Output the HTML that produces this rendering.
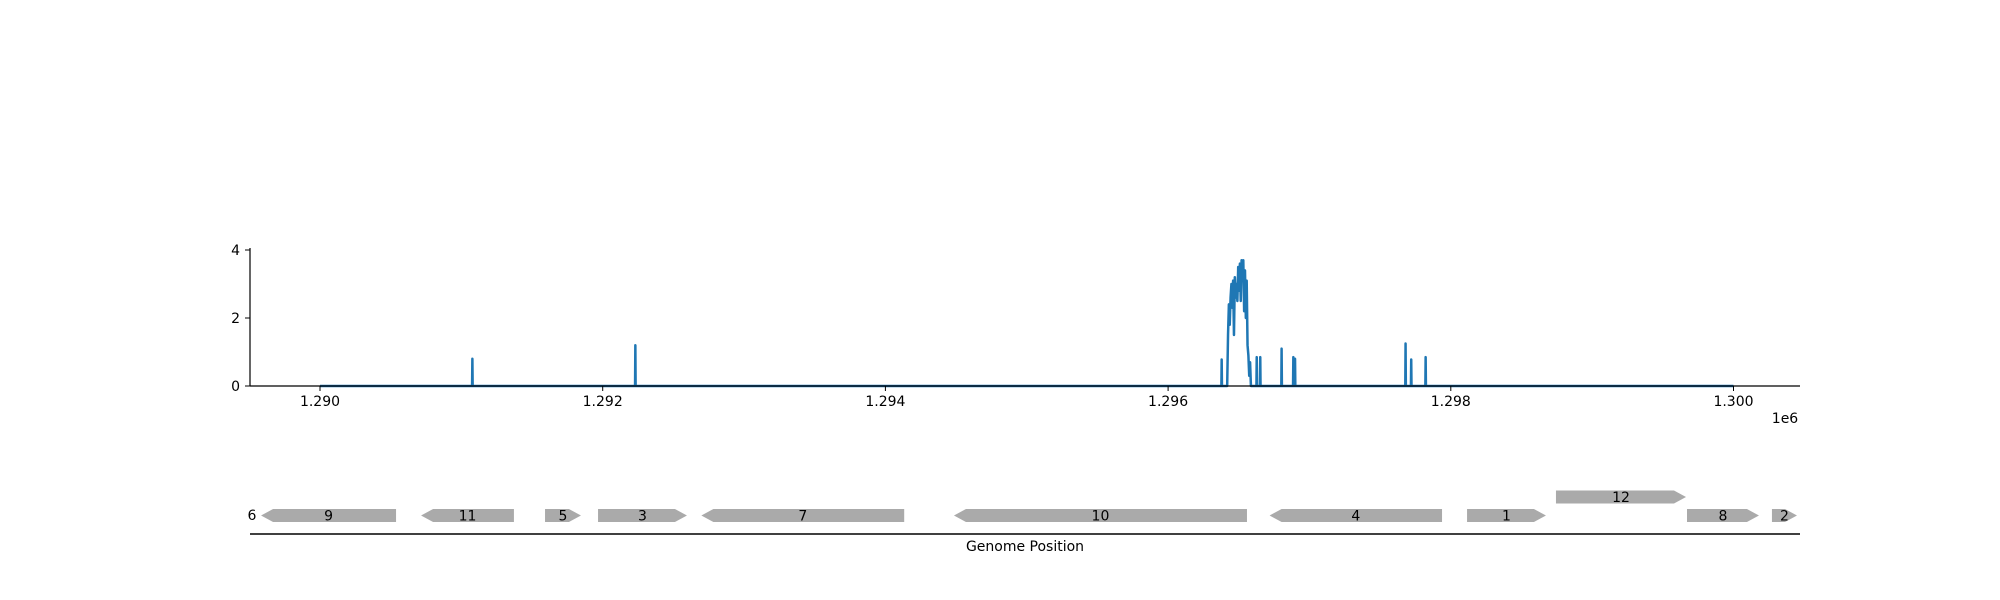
<!DOCTYPE html>
<html><head><meta charset="utf-8"><style>
html,body{margin:0;padding:0;background:#fff;}
svg{display:block;font-family:"DejaVu Sans","Liberation Sans",sans-serif;}
</style></head><body>
<svg id="chart" width="2000" height="600" viewBox="0 0 2000 600">
<g id="axes"></g>
<g id="genes"></g>
</svg>
<script>
// coverage data (positions in bp, values)
const spikePos = [1291078, 1292231, 1296379, 1296627, 1296652, 1296803, 1296886, 1296898, 1297680, 1297720, 1297822];
const spikeVal = [0.8, 1.2, 0.78, 0.85, 0.85, 1.1, 0.85, 0.8, 1.25, 0.78, 0.85];
const clusterPos = [1296418,1296424,1296430,1296436,1296442,1296448,1296454,1296460,1296466,1296472,1296478,1296484,1296490,1296496,1296502,1296508,1296514,1296520,1296526,1296532,1296538,1296544,1296550,1296556,1296562,1296568,1296574,1296580,1296586];
const clusterVal = [0,1.5,2.4,1.8,2.6,3.0,2.3,3.1,1.5,3.2,2.6,3.0,2.5,3.5,2.8,3.6,2.5,3.7,3.3,3.7,2.2,3.4,2.0,3.1,1.2,0.9,0.3,0.7,0];
const yTicks = [0, 2, 4];
const xTicks = [1290000, 1292000, 1294000, 1296000, 1298000, 1300000];
const xTickLabels = ["1.290", "1.292", "1.294", "1.296", "1.298", "1.300"];
// genes
const geneNames = ["9","11","5","3","7","10","4","1","12","8","2"];
const geneStart = [1289583,1290715,1291592,1291967,1292698,1294485,1296718,1298115,1298744,1299671,1300272];
const geneEnd   = [1290538,1291372,1291846,1292596,1294133,1296558,1297938,1298673,1299664,1300180,1300449];
const geneStrand= [-1,-1,1,1,-1,-1,-1,1,1,1,1];
const geneRow   = [0,0,0,0,0,0,0,0,1,0,0];

const NS="http://www.w3.org/2000/svg";
const X0=1290000, PXPER=0.14135, XORG=320;
const xs = v => XORG + (v - X0) * PXPER;
const ys = v => 386 - v * 34;
function mk(tag, attrs, parent){const e=document.createElementNS(NS,tag);for(const k in attrs)e.setAttribute(k,attrs[k]);parent.appendChild(e);return e;}
const axes=document.getElementById('axes');
const genes=document.getElementById('genes');

// coverage line
let pts=[[1290000,0]];
const all=[];
spikePos.forEach((p,i)=>all.push([[p-2,0],[p,spikeVal[i]],[p+2,0]]));
all.push(clusterPos.map((p,i)=>[p,clusterVal[i]]));
all.sort((a,b)=>a[0][0]-b[0][0]);
all.forEach(s=>s.forEach(q=>pts.push(q)));
pts.push([1300000,0]);
const line=mk('polyline',{points:pts.map(q=>xs(q[0]).toFixed(2)+','+ys(q[1]).toFixed(2)).join(' '),fill:'none',stroke:'#1f77b4','stroke-width':2.5,'stroke-linejoin':'round'},axes);



// spines
const ls=mk('line',{x1:250,y1:248,x2:250,y2:386,stroke:'#000','stroke-width':1.2},axes);


const bs=mk('line',{x1:250,y1:386,x2:1800,y2:386,stroke:'#000','stroke-width':1.2},axes);



yTicks.forEach(t=>{
  const y=ys(t);
  mk('line',{x1:245,y1:y,x2:250,y2:y,stroke:'#000','stroke-width':1},axes);
  const tx=mk('text',{x:240,y:y+5,'text-anchor':'end','font-size':14,fill:'#000'},axes);
  tx.textContent=t;
  
  
});
xTicks.forEach((t,i)=>{
  const x=xs(t);
  mk('line',{x1:x,y1:386,x2:x,y2:391,stroke:'#000','stroke-width':1},axes);
  const tx=mk('text',{x:x,y:406,'text-anchor':'middle','font-size':14,fill:'#000'},axes);
  tx.textContent=xTickLabels[i];
  
  
});
const off=mk('text',{x:1785,y:423,'text-anchor':'middle','font-size':14,fill:'#000'},axes);
off.textContent='1e6';



// gene track
const g6=mk('text',{x:252,y:520,'text-anchor':'middle','font-size':14,fill:'#000'},genes);
g6.textContent='6';


geneNames.forEach((n,i)=>{
  const a=xs(geneStart[i]), b=xs(geneEnd[i]);
  const cy=geneRow[i]?497:515.5, h=13;
  const head=Math.min(12,b-a);
  let d;
  if(geneStrand[i]>0) d=`M${a},${cy-h/2} L${b-head},${cy-h/2} L${b},${cy} L${b-head},${cy+h/2} L${a},${cy+h/2} Z`;
  else d=`M${b},${cy-h/2} L${a+head},${cy-h/2} L${a},${cy} L${a+head},${cy+h/2} L${b},${cy+h/2} Z`;
  const p=mk('path',{d:d,fill:'#aaaaaa'},genes);
  
  
  const t=mk('text',{x:(a+b)/2,y:cy+5,'text-anchor':'middle','font-size':14,fill:'#000'},genes);
  t.textContent=n;
  
  
});
const gl=mk('line',{x1:250,y1:534,x2:1800,y2:534,stroke:'#000','stroke-width':1.5},genes);


const gt=mk('text',{x:1025,y:551,'text-anchor':'middle','font-size':14,fill:'#000'},genes);
gt.textContent='Genome Position';


</script>
</body></html>
